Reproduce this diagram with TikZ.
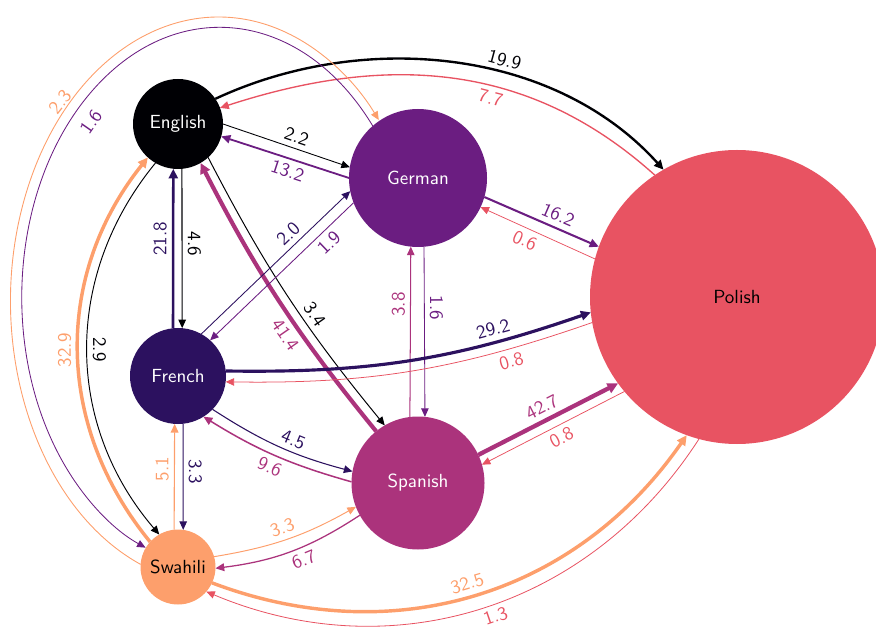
\documentclass[tikz,border=0pt]{standalone}
\usetikzlibrary{arrows.meta}
\definecolor{cEng}{HTML}{000004}
\definecolor{cFre}{HTML}{2C115F}
\definecolor{cGer}{HTML}{6B1D81}
\definecolor{cSpa}{HTML}{AB337C}
\definecolor{cPol}{HTML}{E85362}
\definecolor{cSwa}{HTML}{FD9F6C}
\begin{document}
\begin{tikzpicture}[x=0.5pt, y=0.5pt,
  every node/.style={font=\sffamily\fontsize{9.5}{11}\selectfont},
  lang/.style={circle, inner sep=0pt, outer sep=0pt, text=white},
  flow/.style={line width=0.35pt+#1*0.042pt, -{Triangle[length=4pt 0.6, width=3.4pt 0.8]}},
  lab/.style={sloped, inner sep=2.5pt}]
\useasboundingbox (0,0) rectangle (876,-635);
% languages
\node[lang, fill=cEng, minimum size=45pt] (English) at (178,-124) {English};
\node[lang, fill=cGer, minimum size=69pt] (German) at (418,-178) {German};
\node[lang, fill=cPol, minimum size=147pt, text=black] (Polish) at (737,-297) {Polish};
\node[lang, fill=cFre, minimum size=48pt] (French) at (178,-376) {French};
\node[lang, fill=cSpa, minimum size=66.5pt] (Spanish) at (418,-483) {Spanish};
\node[lang, fill=cSwa, minimum size=37.5pt, text=black] (Swahili) at (178,-567) {Swahili};
% English
\draw[cEng, flow=2.2] (English.0) -- node[lab, pos=0.55, above] {2.2} (German.171);
\draw[cGer, flow=13.2] (German.180) -- node[lab, pos=0.45, below] {13.2} (English.-16);
\draw[cEng, flow=19.9] (English.34) to[out=25, in=132, looseness=0.92] node[lab, pos=0.6, above] {19.9} (Polish.120);
\draw[cPol, flow=7.7] (Polish.124) to[out=138, in=18] node[lab, pos=0.4, below] {7.7} (English.21);
\draw[cEng, flow=4.6] (English.-85) -- node[lab, pos=0.47, above] {4.6} (French.85);
\draw[cFre, flow=21.8] (French.96) -- node[lab, pos=0.56, above] {21.8} (English.-96);
\draw[cEng, flow=3.4] (English.-48) to[bend right=6] node[lab, pos=0.6, above] {3.4} (Spanish.120);
\draw[cSpa, flow=41.4] (Spanish.129) to[bend left=6] node[lab, pos=0.4, below] {41.4} (English.-60);
\draw[cEng, flow=2.9] (English.-120) to[bend right=40] node[lab, pos=0.5, above, allow upside down] {2.9} (Swahili.120);
\draw[cSwa, flow=32.9] (Swahili.138) to[bend left=39] node[lab, pos=0.5, above, allow upside down] {32.9} (English.-132);
% German
\draw[cFre, flow=2.0] (French.61) -- node[lab, pos=0.64, above] {2.0} (German.-169);
\draw[cGer, flow=1.9] (German.-159) -- node[lab, pos=0.23, below] {1.9} (French.48);
\draw[cGer, flow=16.2] (German.-16) -- node[lab, pos=0.6, above] {16.2} (Polish.160);
\draw[cPol, flow=0.6] (Polish.165) -- node[lab, pos=0.57, below] {0.6} (German.-25);
\draw[cGer, flow=1.6] (German.-85) -- node[lab, pos=0.36, above] {1.6} (Spanish.84);
\draw[cSpa, flow=3.8] (Spanish.97) -- node[lab, pos=0.66, above] {3.8} (German.-96);
\draw[cGer, flow=1.6] (German.131) arc[start angle=39.4, end angle=248, x radius=99pt, y radius=135pt];
\node[text=cGer, inner sep=0pt, rotate=55] (lblGerSwa) at (91,-122) {1.6};
\draw[cSwa, flow=2.3] (Swahili.176) arc[start angle=248, end angle=39.6, x radius=104pt, y radius=142pt];
\node[text=cSwa, inner sep=0pt, rotate=52] (lblSwaGer) at (60,-102) {2.3};
% French
\draw[cFre, flow=29.2] (French.6) to[bend right=10] node[lab, pos=0.75, above] {29.2} (Polish.186);
\draw[cPol, flow=0.8] (Polish.190) to[bend left=10] node[lab, pos=0.22, below] {0.8} (French.-7);
\draw[cFre, flow=4.5] (French.-44) to[bend right=9] node[lab, pos=0.57, above] {4.5} (Spanish.170);
\draw[cSpa, flow=9.6] (Spanish.179) to[bend left=8] node[lab, pos=0.5, below] {9.6} (French.-58);
\draw[cFre, flow=3.3] (French.-84) -- node[lab, pos=0.45, above] {3.3} (Swahili.82);
\draw[cSwa, flow=5.1] (Swahili.96) -- node[lab, pos=0.57, above] {5.1} (French.-94);
% Spanish
\draw[cSpa, flow=42.7] (Spanish.25) -- node[lab, pos=0.5, above] {42.7} (Polish.216);
\draw[cPol, flow=0.8] (Polish.220) -- node[lab, pos=0.48, below] {0.8} (Spanish.16);
\draw[cSwa, flow=3.3] (Swahili.16) to[bend right=10] node[lab, pos=0.49, above] {3.3} (Spanish.201);
\draw[cSpa, flow=6.7] (Spanish.209) to[bend left=13] node[lab, pos=0.44, below] {6.7} (Swahili.-2);
% Swahili
\draw[cSwa, flow=32.5] (Swahili.-25) to[bend right=38] node[lab, pos=0.49, above] {32.5} (Polish.250);
\draw[cPol, flow=1.3] (Polish.255) to[bend left=40] node[lab, pos=0.48, below] {1.3} (Swahili.-41);
\end{tikzpicture}
\end{document}
